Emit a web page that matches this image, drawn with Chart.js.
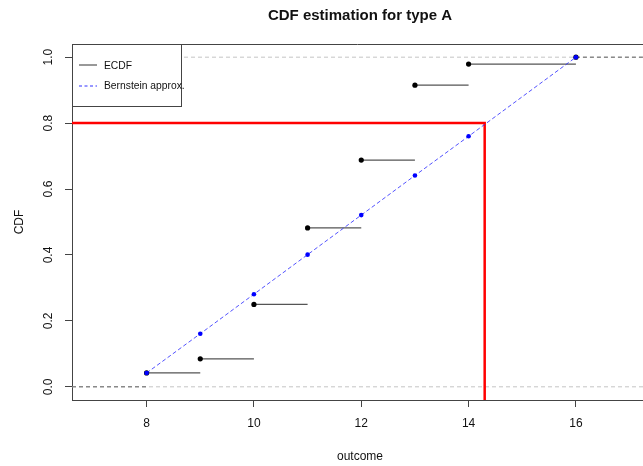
<!DOCTYPE html>
<html lang="en">
<head>
<meta charset="UTF-8">
<title>CDF estimation for type A</title>
<script src="https://cdn.jsdelivr.net/npm/chart.js"></script>
<style>
    html, body { margin: 0; padding: 0; background: #fff; overflow: hidden; }
    #grafico { display: block; }
</style>
</head>
<body>
<canvas id="grafico" width="643" height="466"></canvas>
<script>
    // valores
    const outcomes = [8, 9, 10, 11, 12, 13, 14, 16];
    const ecdfValues = [0.042, 0.085, 0.25, 0.482, 0.688, 0.915, 0.979, 1.0];
    const bernsteinValues = [0.042, 0.161, 0.281, 0.401, 0.521, 0.641, 0.76, 1.0];
    const quantileLevel = 0.8;
    const quantileValue = 14.3;
    const xRange = [6.61, 17.25];
    const yRange = [-0.04, 1.04];
    const xTicks = [8, 10, 12, 14, 16];
    const yTicks = [0, 0.2, 0.4, 0.6, 0.8, 1.0];
    const yTickLabels = ['0.0', '0.2', '0.4', '0.6', '0.8', '1.0'];
    const legendLabels = ['ECDF', 'Bernstein approx.'];

    const FONTE = '"Liberation Sans", Arial, sans-serif';

    // degraus da ECDF (segmentos horizontais separados por null)
    let degraus = [];
    for (let i = 0; i < outcomes.length - 1; i++) {
        degraus.push({ x: outcomes[i], y: ecdfValues[i] });
        degraus.push({ x: outcomes[i + 1], y: ecdfValues[i] });
        degraus.push({ x: outcomes[i + 1], y: null });
    }
    let ultimo = outcomes.length - 1;

    let pontosEcdf = outcomes.map((x, i) => ({ x: x, y: ecdfValues[i] }));
    let pontosBern = outcomes.map((x, i) => ({ x: x, y: bernsteinValues[i] }));

    const datasets = [
        {   // linhas de referencia em 0 e 1
            data: [{ x: xRange[0], y: 0 }, { x: xRange[1], y: 0 }, { x: xRange[1], y: null },
                   { x: xRange[0], y: 1 }, { x: xRange[1], y: 1 }],
            borderColor: '#c4c4c4', borderWidth: 1, borderDash: [4, 3],
            pointRadius: 0, spanGaps: false, order: 10
        },
        {   // extensoes da ECDF fora dos dados
            data: [{ x: xRange[0], y: 0 }, { x: outcomes[0], y: 0 }, { x: outcomes[0], y: null },
                   { x: outcomes[ultimo], y: ecdfValues[ultimo] }, { x: xRange[1], y: ecdfValues[ultimo] }],
            borderColor: '#666', borderWidth: 1, borderDash: [4, 3],
            pointRadius: 0, spanGaps: false, order: 9
        },
        {   // degraus
            data: degraus,
            borderColor: '#555', borderWidth: 1.3,
            pointRadius: 0, spanGaps: false, order: 8
        },
        {   // quantil em vermelho
            data: [{ x: xRange[0], y: quantileLevel }, { x: quantileValue, y: quantileLevel },
                   { x: quantileValue, y: yRange[0] }],
            borderColor: '#ff0000', borderWidth: 2.5,
            pointRadius: 0, order: 7
        },
        {   // aproximacao de Bernstein
            data: pontosBern,
            borderColor: 'rgba(40,40,255,0.8)', borderWidth: 1, borderDash: [4, 2.5],
            pointRadius: 2.3, pointBackgroundColor: '#0000ff', pointBorderWidth: 0,
            order: 5
        },
        {   // pontos da ECDF
            data: pontosEcdf,
            showLine: false,
            pointRadius: 2.6, pointBackgroundColor: '#000', pointBorderWidth: 0,
            order: 6
        }
    ];

    const decoracao = {
        id: 'decoracao',
        afterDatasetsDraw(chart) {
            const ctx = chart.ctx;
            const area = chart.chartArea;
            ctx.save();
            // borda superior
            ctx.strokeStyle = '#444';
            ctx.lineWidth = 1;
            ctx.beginPath();
            ctx.moveTo(area.left, area.top + 0.5);
            ctx.lineTo(area.right, area.top + 0.5);
            ctx.stroke();

            // legenda
            ctx.fillStyle = '#fff';
            ctx.fillRect(area.left, area.top, 109, 62);
            ctx.strokeRect(area.left + 0.5, area.top + 0.5, 109, 62);

            ctx.strokeStyle = '#333';
            ctx.beginPath();
            ctx.moveTo(area.left + 7, area.top + 21);
            ctx.lineTo(area.left + 25, area.top + 21);
            ctx.stroke();

            ctx.strokeStyle = '#3030ff';
            ctx.setLineDash([3, 2.5]);
            ctx.beginPath();
            ctx.moveTo(area.left + 7, area.top + 42);
            ctx.lineTo(area.left + 25, area.top + 42);
            ctx.stroke();
            ctx.setLineDash([]);

            ctx.fillStyle = '#111';
            ctx.font = '10.3px ' + FONTE;
            ctx.textAlign = 'left';
            ctx.textBaseline = 'middle';
            ctx.fillText(legendLabels[0], area.left + 32, area.top + 22);
            ctx.fillText(legendLabels[1], area.left + 32, area.top + 42);
            ctx.restore();
        },
        afterDraw(chart) {
            const ctx = chart.ctx;
            const sx = chart.scales.x;
            const sy = chart.scales.y;
            ctx.save();
            ctx.fillStyle = '#111';

            // titulo
            ctx.font = 'bold 15px ' + FONTE;
            ctx.textAlign = 'center';
            ctx.textBaseline = 'middle';
            ctx.fillText('CDF estimation for type A', 360, 16);

            // rotulos do eixo x
            ctx.font = '12px ' + FONTE;
            xTicks.forEach(v => ctx.fillText(String(v), sx.getPixelForValue(v), 424));
            ctx.fillText('outcome', 360, 457);

            // rotulos do eixo y (girados)
            yTicks.forEach((v, i) => {
                ctx.save();
                ctx.translate(49, sy.getPixelForValue(v));
                ctx.rotate(-Math.PI / 2);
                ctx.fillText(yTickLabels[i], 0, 0);
                ctx.restore();
            });
            ctx.translate(20, 222);
            ctx.rotate(-Math.PI / 2);
            ctx.fillText('CDF', 0, 0);
            ctx.restore();
        }
    };

    new Chart(document.getElementById('grafico'), {
        type: 'line',
        data: { datasets: datasets },
        options: {
            responsive: false,
            animation: false,
            layout: { autoPadding: false, padding: { top: 44, left: 0, right: 0, bottom: 0 } },
            plugins: { legend: { display: false }, tooltip: { enabled: false }, title: { display: false } },
            scales: {
                x: {
                    type: 'linear', min: xRange[0], max: xRange[1],
                    afterBuildTicks: s => { s.ticks = xTicks.map(v => ({ value: v })); },
                    afterFit: s => { s.height = 66; },
                    ticks: { display: false },
                    grid: { drawOnChartArea: false, drawTicks: true, tickLength: 7, color: '#444' },
                    border: { display: true, color: '#444', width: 1 }
                },
                y: {
                    type: 'linear', min: yRange[0], max: yRange[1],
                    afterBuildTicks: s => { s.ticks = yTicks.map(v => ({ value: v })); },
                    afterFit: s => { s.width = 72; },
                    ticks: { display: false },
                    grid: { drawOnChartArea: false, drawTicks: true, tickLength: 7, color: '#444' },
                    border: { display: true, color: '#444', width: 1 }
                }
            }
        },
        plugins: [decoracao]
    });
</script>
</body>
</html>
